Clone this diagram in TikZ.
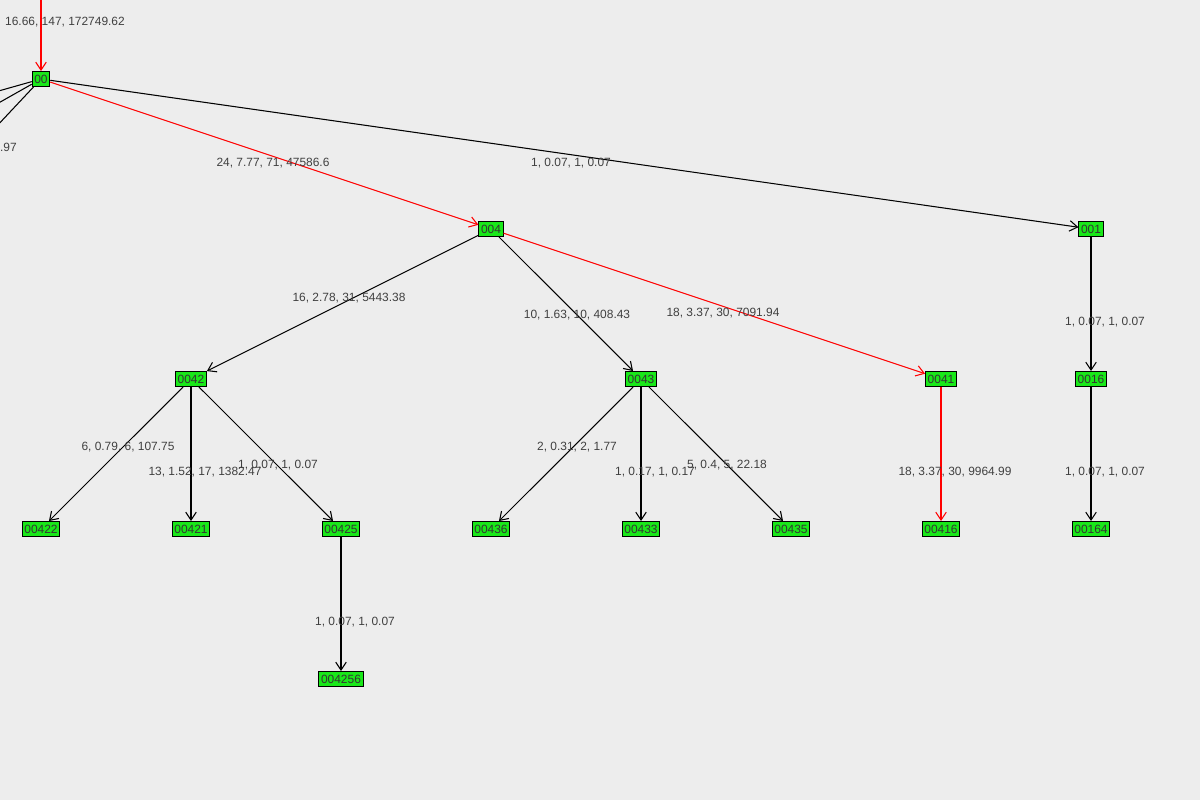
\documentclass[tikz,border=0pt]{standalone}
\usepackage{fontspec}
\setmainfont{Liberation Sans}
\usetikzlibrary{arrows.meta}
\begin{document}
\begin{tikzpicture}[x=0.02cm,y=-0.02cm,
 nd/.style={draw=black,fill=green!90!black!90,line width=0.6pt,inner sep=1.2pt,minimum height=8.5pt,font=\fontsize{6.8}{7}\selectfont,text=black!80},
 lb/.style={font=\fontsize{6.8}{7}\selectfont,text=black!75},
 ed/.style={draw=black,line width=0.6pt,-{Straight Barb[length=4.5pt,width=6pt]}},
 re/.style={ed,draw=red}]
\fill[black!7] (0,0) rectangle (1200,800);
\useasboundingbox (0,0) rectangle (1200,800);
\node[nd] (n00) at (41,79) {00};
\node[nd] (n004) at (491,229) {004};
\node[nd] (n001) at (1091,229) {001};
\node[nd] (n0042) at (191,379) {0042};
\node[nd] (n0043) at (641,379) {0043};
\node[nd] (n0041) at (941,379) {0041};
\node[nd] (n0016) at (1091,379) {0016};
\node[nd] (n00422) at (41,529) {00422};
\node[nd] (n00421) at (191,529) {00421};
\node[nd] (n00425) at (341,529) {00425};
\node[nd] (n00436) at (491,529) {00436};
\node[nd] (n00433) at (641,529) {00433};
\node[nd] (n00435) at (791,529) {00435};
\node[nd] (n00416) at (941,529) {00416};
\node[nd] (n00164) at (1091,529) {00164};
\node[nd] (n004256) at (341,679) {004256};
\coordinate (top) at (41,-5);
\coordinate (l1) at (-5,92);
\coordinate (l2) at (-5,105);
\coordinate (l3) at (-5,128);
\draw[re] (top) -- (n00);
\draw[line width=0.6pt] (n00) -- (l1);
\draw[line width=0.6pt] (n00) -- (l2);
\draw[line width=0.6pt] (n00) -- (l3);
\draw[re] (n00) -- (n004);
\draw[ed] (n00) -- (n001);
\draw[ed] (n004) -- (n0042);
\draw[ed] (n004) -- (n0043);
\draw[re] (n004) -- (n0041);
\draw[ed] (n001) -- (n0016);
\draw[ed] (n0042) -- (n00422);
\draw[ed] (n0042) -- (n00421);
\draw[ed] (n0042) -- (n00425);
\draw[ed] (n0043) -- (n00436);
\draw[ed] (n0043) -- (n00433);
\draw[ed] (n0043) -- (n00435);
\draw[re] (n0041) -- (n00416);
\draw[ed] (n0016) -- (n00164);
\draw[ed] (n00425) -- (n004256);
\node[lb] (t1) at (65,22) {16.66, 147, 172749.62};
\node[lb,anchor=east] (t2) at (23,147) {138.97};
\node[lb] (t3) at (273,163) {24, 7.77, 71, 47586.6};
\node[lb] (t4) at (571,163) {1, 0.07, 1, 0.07};
\node[lb] (t5) at (349,298) {16, 2.78, 31, 5443.38};
\node[lb] (t6) at (577,315) {10, 1.63, 10, 408.43};
\node[lb] (t7) at (723,313) {18, 3.37, 30, 7091.94};
\node[lb] (t8) at (1105,322) {1, 0.07, 1, 0.07};
\node[lb] (t9) at (128,447) {6, 0.79, 6, 107.75};
\node[lb] (t10) at (205,472) {13, 1.52, 17, 1382.47};
\node[lb] (t11) at (278,465) {1, 0.07, 1, 0.07};
\node[lb] (t12) at (577,447) {2, 0.31, 2, 1.77};
\node[lb] (t13) at (655,472) {1, 0.17, 1, 0.17};
\node[lb] (t14) at (727,465) {5, 0.4, 5, 22.18};
\node[lb] (t15) at (955,472) {18, 3.37, 30, 9964.99};
\node[lb] (t16) at (1105,472) {1, 0.07, 1, 0.07};
\node[lb] (t17) at (355,622) {1, 0.07, 1, 0.07};
\end{tikzpicture}
\end{document}
